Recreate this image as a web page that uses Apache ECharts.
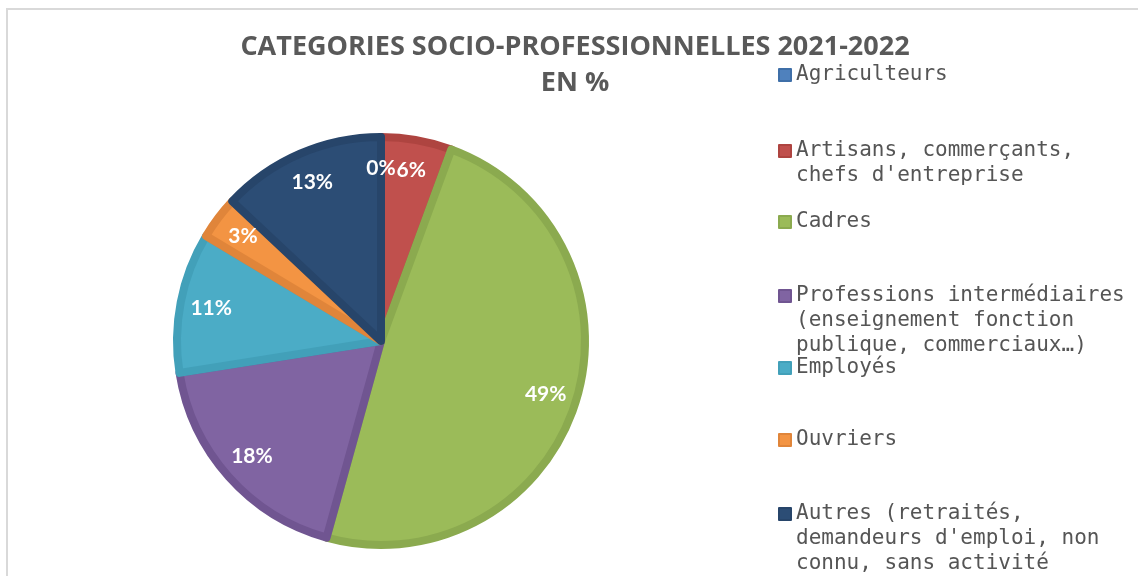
<!DOCTYPE html>
<html><head><meta charset="utf-8">
<script src="https://cdn.jsdelivr.net/npm/echarts@6/dist/echarts.min.js"></script>
<style>html,body{margin:0;padding:0;background:#fff;overflow:hidden}#c{width:1138px;height:576px}</style>
</head><body><div id="c"></div>
<script>
const titleLines = ['CATEGORIES SOCIO-PROFESSIONNELLES 2021-2022', 'EN %'];
const categories = [
  'Agriculteurs',
  'Artisans, commerçants,\nchefs d\'entreprise',
  'Cadres',
  'Professions intermédiaires\n(enseignement fonction\npublique, commerciaux…)',
  'Employés',
  'Ouvriers',
  'Autres (retraités,\ndemandeurs d\'emploi, non\nconnu, sans activité'
];
const values = [0, 5.6, 48.7, 18.2, 11.1, 3.4, 13.0];

const colors = ['#4F81BD','#C0504D','#9BBB59','#8064A2','#4BACC6','#F39443','#2C4D75'];
const borderColors = ['#3F6FA8','#AE4440','#8BAA4F','#705591','#42A0B9','#E0853A','#27456A'];
const legendFirstLineY = [75, 151, 222, 296, 368, 440, 514];
const LH = 25;

const chart = echarts.init(document.getElementById('c'));
const legends = categories.map((name, i) => {
  const n = name.split('\n').length;
  return {
    data: [name], orient: 'vertical', left: 778,
    top: legendFirstLineY[i] - (2 * n - 1) * LH / 2,
    padding: 0, itemWidth: 12, itemHeight: 12, icon: 'rect',
    selectedMode: false,
    formatter: nm => '\n'.repeat(n - 1) + nm,
    textStyle: { fontFamily: 'DejaVu Sans Mono', fontSize: 21, color: '#555555', lineHeight: LH }
  };
});
const pieData = categories.map((name, i) => ({
  name, value: values[i],
  itemStyle: { color: colors[i], borderColor: borderColors[i], borderWidth: 8 }
}));
chart.setOption({
  animation: false,
  title: {
    text: titleLines.join('\n'), left: 575, top: 29, textAlign: 'center', padding: 0,
    textStyle: { fontFamily: 'Open Sans', fontWeight: 'bold', fontSize: 27, color: '#595959', lineHeight: 36 }
  },
  legend: legends,
  graphic: [{ type: 'rect', shape: { x: 7, y: 9, width: 1300, height: 700 }, style: { fill: 'none', stroke: '#d9d9d9', lineWidth: 2 }, silent: true }],
  series: [{
    type: 'pie', center: [381, 341], radius: [0, 204], startAngle: 90, clockwise: true,
    data: pieData, label: { show: false }, labelLine: { show: false }, emphasis: { disabled: true }
  }, {
    type: 'pie', center: [381, 341], radius: [132, 208], startAngle: 90, clockwise: true, silent: true,
    data: categories.map((name, i) => ({ name, value: values[i], itemStyle: { color: 'rgba(0,0,0,0)' } })),
    label: { show: true, position: 'inside', color: '#fff', fontFamily: 'Lato', fontWeight: 'bold', fontSize: 21,
      formatter: p => Math.round(p.percent) + '%' },
    labelLine: { show: false }, emphasis: { disabled: true }, z: 5
  }]
});
</script></body></html>
